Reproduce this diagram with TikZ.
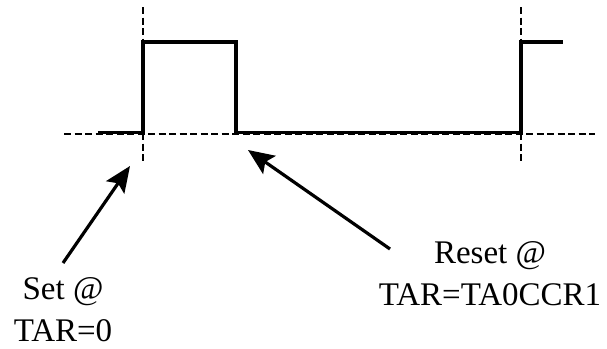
\documentclass[tikz,border=0pt]{standalone}
\usepackage{fontspec}
\setmainfont{Liberation Serif}
\usetikzlibrary{arrows.meta}
\begin{document}
\begin{tikzpicture}[x=1pt,y=-1pt,
  signal/.style={line width=3.3pt, line cap=butt, line join=miter},
  guide/.style={line width=1.8pt, dash pattern=on 7pt off 3.5pt},
  pointer/.style={line width=3.2pt, -{Stealth[length=26pt,width=22pt,inset=5pt]}},
  label/.style={font=\fontsize{33}{42}\selectfont, align=center, anchor=base, inner sep=0pt}]
\useasboundingbox (0,0) rectangle (607,348);
% guides
\draw[guide] (64,134) -- (595,134);
\draw[guide] (143,7) -- (143,163);
\draw[guide] (521,7) -- (521,163);
% signal
\draw[signal] (98,132.5) -- (143,132.5) -- (143,42) -- (236,42) -- (236,132.5) -- (521,132.5) -- (521,42) -- (563,42);
% labels
\node[label] (set) at (63,341) {Set @\\TAR=0};
\node[label] (reset) at (490,305) {Reset @\\TAR=TA0CCR1};
\coordinate (settail) at (63,263);
\coordinate (settip) at (130,166);
\coordinate (resettail) at (390,249);
\coordinate (resettip) at (248,150);
\draw[pointer] (settail) -- (settip);
\draw[pointer] (resettail) -- (resettip);
\end{tikzpicture}
\end{document}
